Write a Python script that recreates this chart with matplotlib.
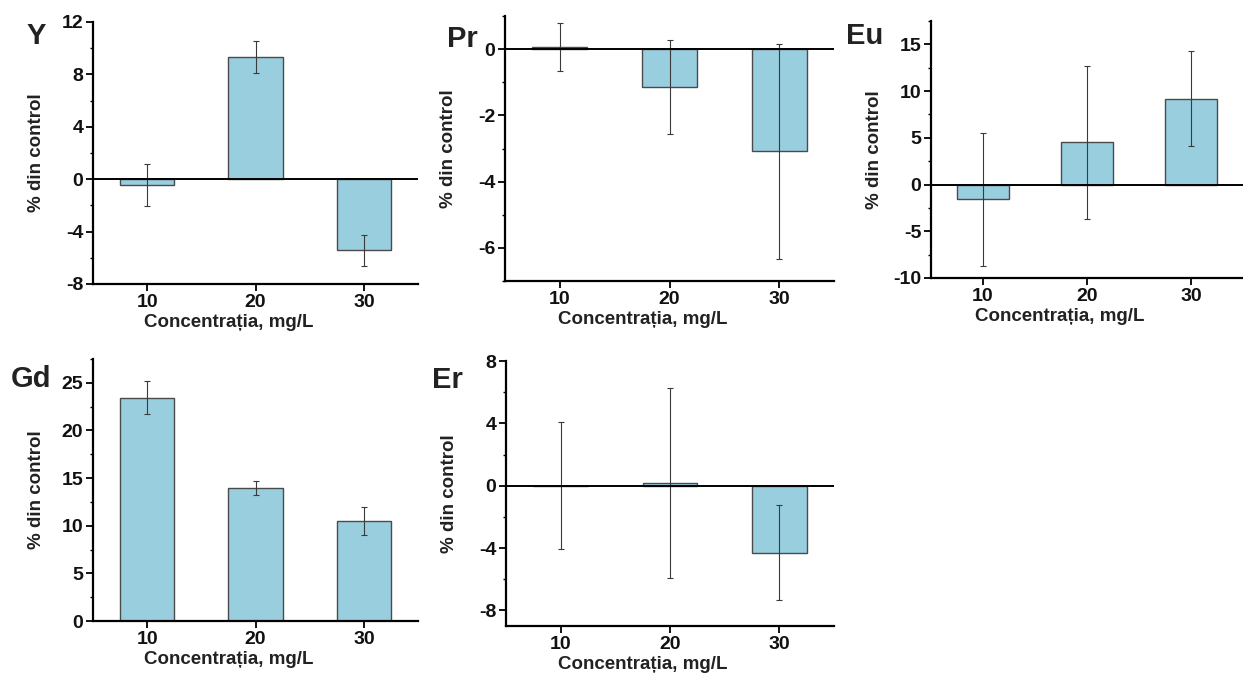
import matplotlib
matplotlib.use("Agg")
import matplotlib.pyplot as plt
from matplotlib.ticker import MultipleLocator

plt.rcParams['font.family'] = ['Liberation Sans', 'DejaVu Sans']
plt.rcParams['font.weight'] = 'bold'
plt.rcParams['axes.unicode_minus'] = False

conc = [10, 20, 30]
tick_labels = ['10', '20', '30']

y_vals = [-0.44, 9.35, -5.44]
y_err = [1.58, 1.23, 1.2]

pr_vals = [0.07, -1.13, -3.09]
pr_err = [0.72, 1.42, 3.25]

eu_vals = [-1.6, 4.5, 9.2]
eu_err = [7.16, 8.18, 5.1]

gd_vals = [23.45, 13.95, 10.5]
gd_err = [1.7, 0.75, 1.5]

er_vals = [0.0, 0.19, -4.3]
er_err = [4.07, 6.1, 3.05]

W, H = 1243, 673
fig = plt.figure(figsize=(W / 100, H / 100), dpi=100)

bar_color = '#99cede'
edge_color = '#4a4a4a'

# panel: name, values, errors, (left, right, top, bottom) px, ylim, major, minor, letter pos
panels = [
    ('Y', y_vals, y_err, (93, 418, 22, 284), (-8, 12), 4, 2, (27, 44)),
    ('Pr', pr_vals, pr_err, (505, 834, 16, 281), (-7, 1), 2, 1, (447, 47)),
    ('Eu', eu_vals, eu_err, (931, 1243, 21, 278), (-10, 17.5), 5, 2.5, (846, 44)),
    ('Gd', gd_vals, gd_err, (93, 418, 359, 621), (0, 27.5), 5, 2.5, (11, 387)),
    ('Er', er_vals, er_err, (506, 834, 361, 626), (-9, 8), 4, 2, (432, 388)),
]

for name, vals, errs, box, ylim, major, minor, lab in panels:
    l, r, t, b = box
    ax = fig.add_axes([l / W, 1 - b / H, (r - l) / W, (b - t) / H])
    ax.bar(conc, vals, width=5, color=bar_color, edgecolor=edge_color,
           linewidth=1.0, zorder=2)
    ax.errorbar(conc, vals, yerr=errs, fmt='none', ecolor='#3a3a3a',
                elinewidth=0.8, capsize=2.5, capthick=0.8, zorder=3)
    ax.axhline(0, color='black', linewidth=1.4, zorder=4)
    ax.set_xlim(5, 35)
    ax.set_ylim(*ylim)
    ax.set_xticks(conc)
    ax.set_xticklabels(tick_labels)
    ax.yaxis.set_major_locator(MultipleLocator(major))
    ax.yaxis.set_minor_locator(MultipleLocator(minor))
    for s in ['top', 'right']:
        ax.spines[s].set_visible(False)
    for s in ['left', 'bottom']:
        ax.spines[s].set_linewidth(1.6)
    ax.tick_params(axis='both', which='major', direction='out', length=5,
                   width=1.3, labelsize=14, pad=2, labelcolor='#111111')
    ax.tick_params(axis='y', which='minor', direction='out', length=2.5,
                   width=1.0)
    for lbl in ax.get_xticklabels() + ax.get_yticklabels():
        lbl.set_fontweight('bold')
    ax.set_xlabel('Concentrația, mg/L', fontsize=13.5, fontweight='bold',
                  color='#222222')
    ax.set_ylabel('% din control', fontsize=13.5, fontweight='bold',
                  color='#222222')
    wpx = r - l
    hpx = b - t
    ax.xaxis.set_label_coords(0.5 - 27 / wpx, -30 / hpx)
    ax.yaxis.set_label_coords(-48 / wpx, 0.5)
    fig.text(lab[0] / W, 1 - lab[1] / H, name, fontsize=21, fontweight='bold',
             color='#222222', ha='left', va='baseline')

fig.savefig('out.png', dpi=100)
